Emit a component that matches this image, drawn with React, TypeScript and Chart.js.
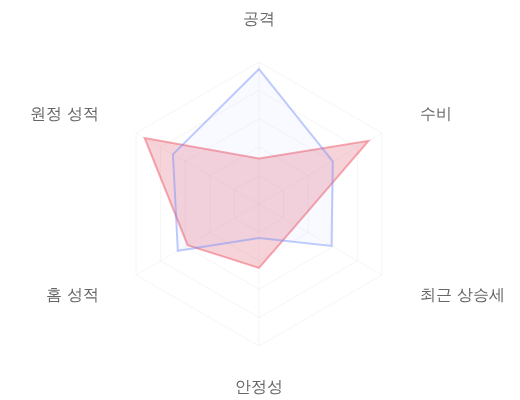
import { useEffect, useRef } from "react";
import { Chart, registerables } from "chart.js";
import type { Plugin, RadialLinearScale } from "chart.js";

Chart.register(...registerables);

const labels = ["공격", "수비", "최근 상승세", "안정성", "홈 성적", "원정 성적"];
const blueValues = [95, 60, 59, 24, 66, 70];
const redValues = [32, 89, 30, 45, 58, 93];

const LABEL_GAP = 42;
const LABEL_FONT = "16px 'Helvetica Neue', Helvetica, Arial, sans-serif";

// labels drawn centred on their spoke point, outside the grid
const outerLabels: Plugin<"radar"> = {
  id: "outerLabels",
  afterDraw(chart) {
    const scale = chart.scales.r as RadialLinearScale;
    const ctx = chart.ctx;
    ctx.save();
    ctx.font = LABEL_FONT;
    ctx.fillStyle = "#666";
    ctx.textBaseline = "middle";
    labels.forEach((label, i) => {
      const pos = scale.getPointPosition(i, scale.drawingArea + LABEL_GAP);
      const dx = pos.x - scale.xCenter;
      const dy = pos.y < scale.yCenter - 1 && Math.abs(dx) >= 1 ? 3 : 0;
      if (Math.abs(dx) < 1) {
        ctx.textAlign = "center";
        ctx.fillText(label, pos.x, pos.y);
      } else if (dx > 0) {
        ctx.textAlign = "left";
        ctx.fillText(label, pos.x + 2, pos.y + dy);
      } else {
        ctx.textAlign = "right";
        ctx.fillText(label, pos.x - 1, pos.y + dy);
      }
    });
    ctx.restore();
  },
};

export default function App() {
  const canvasRef = useRef<HTMLCanvasElement | null>(null);
  const chartRef = useRef<Chart<"radar"> | null>(null);

  useEffect(() => {
    if (!canvasRef.current) return;
    chartRef.current?.destroy();

    chartRef.current = new Chart(canvasRef.current, {
      type: "radar",
      data: {
        labels,
        datasets: [
          {
            label: "A",
            data: blueValues,
            borderColor: "rgba(110, 140, 250, 0.45)",
            backgroundColor: "rgba(110, 140, 250, 0.04)",
            borderWidth: 2,
            pointRadius: 0,
          },
          {
            label: "B",
            data: redValues,
            borderColor: "rgba(240, 100, 115, 0.55)",
            backgroundColor: "rgba(225, 110, 130, 0.3)",
            borderWidth: 2,
            pointRadius: 0,
          },
        ],
      },
      options: {
        responsive: true,
        maintainAspectRatio: false,
        animation: false,
        layout: { padding: { top: 62, bottom: 54, left: 8, right: 10 } },
        plugins: {
          legend: { display: false },
          tooltip: { enabled: false },
        },
        scales: {
          r: {
            min: 0,
            max: 100,
            ticks: { display: false, stepSize: 20 },
            grid: { color: "rgba(0, 0, 0, 0.045)" },
            angleLines: { color: "rgba(0, 0, 0, 0.04)" },
            pointLabels: { display: false },
          },
        },
      },
      plugins: [outerLabels],
    });

    return () => chartRef.current?.destroy();
  }, []);

  return (
    <div style={{ position: "fixed", left: 0, top: 0, width: 520, height: 400 }}>
      <canvas ref={canvasRef} />
    </div>
  );
}
